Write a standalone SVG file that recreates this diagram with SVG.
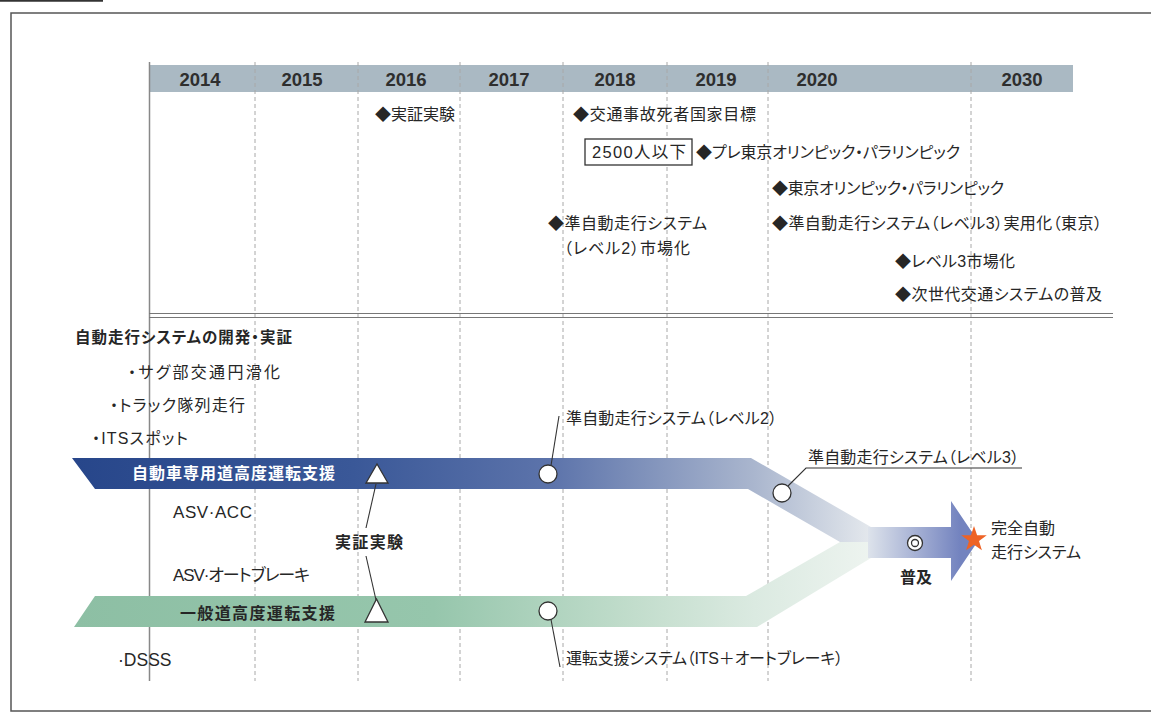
<svg xmlns="http://www.w3.org/2000/svg" width="1151" height="713" viewBox="0 0 1151 713">
<style>
text{font-family:'Liberation Sans','Noto Sans CJK JP',sans-serif;fill:#262626;font-size:16px;font-feature-settings:"palt"}
.yr{font-size:18.5px;font-weight:bold;fill:#2e2e2e;text-anchor:middle;font-feature-settings:normal}
.b{font-weight:bold}
.w{fill:#ffffff;font-weight:bold}
.dash{stroke:#a8a8a8;stroke-width:1;stroke-dasharray:4 3;fill:none}
.lead{stroke:#333;stroke-width:1.1;fill:none}
.mk{fill:#fff;stroke:#333;stroke-width:1.3}
</style>
<defs>
<linearGradient id="gBlue" gradientUnits="userSpaceOnUse" x1="72" y1="0" x2="875" y2="0">
<stop offset="0" stop-color="#27468a"/>
<stop offset="0.35" stop-color="#3a5898"/>
<stop offset="0.6" stop-color="#5d74ab"/>
<stop offset="0.85" stop-color="#aab6ce"/>
<stop offset="1" stop-color="#e6eaee"/>
</linearGradient>
<linearGradient id="gGreen" gradientUnits="userSpaceOnUse" x1="73" y1="0" x2="875" y2="0">
<stop offset="0" stop-color="#8dbfa4"/>
<stop offset="0.45" stop-color="#96c6ac"/>
<stop offset="0.7" stop-color="#c2ddcc"/>
<stop offset="0.85" stop-color="#dbeae1"/>
<stop offset="1" stop-color="#eef4f0"/>
</linearGradient>
<linearGradient id="gArrow" gradientUnits="userSpaceOnUse" x1="862" y1="0" x2="960" y2="0">
<stop offset="0" stop-color="#e4e9ee"/>
<stop offset="1" stop-color="#7383bf"/>
</linearGradient>
</defs>

<g id="frame">
<path d="M1152,13 H11 V711 H1152" fill="none" stroke="#555" stroke-width="1.5"/>
<line x1="0" y1="0.8" x2="103" y2="0.8" stroke="#333" stroke-width="1.8"/>
</g>

<g id="header">
<rect x="149" y="65" width="924" height="27" fill="#aab9c3"/>
<text class="yr" x="200" y="86">2014</text>
<text class="yr" x="302" y="86">2015</text>
<text class="yr" x="406" y="86">2016</text>
<text class="yr" x="509" y="86">2017</text>
<text class="yr" x="615" y="86">2018</text>
<text class="yr" x="716" y="86">2019</text>
<text class="yr" x="817" y="86">2020</text>
<text class="yr" x="1022" y="86">2030</text>
</g>

<g id="grid">
<line class="dash" x1="255" y1="62" x2="255" y2="681"/>
<line class="dash" x1="358" y1="62" x2="358" y2="681"/>
<line class="dash" x1="460" y1="62" x2="460" y2="681"/>
<line class="dash" x1="563" y1="62" x2="563" y2="681"/>
<line class="dash" x1="667" y1="62" x2="667" y2="681"/>
<line class="dash" x1="768" y1="62" x2="768" y2="681"/>
<line class="dash" x1="971" y1="62" x2="971" y2="681"/>
<line x1="149.5" y1="62" x2="149.5" y2="681" stroke="#888" stroke-width="1.5"/>
<line x1="149" y1="313.5" x2="1113" y2="313.5" stroke="#777" stroke-width="1.2"/>
<line x1="149" y1="317.5" x2="1113" y2="317.5" stroke="#777" stroke-width="1.2"/>
</g>

<g id="events">
<text x="375" y="120" textLength="80">◆実証実験</text>
<text x="573" y="120" textLength="183">◆交通事故死者国家目標</text>
<g id="target-box">
<rect x="585" y="139" width="107" height="26" fill="#fff" stroke="#333" stroke-width="1.3"/>
<text x="592" y="158" textLength="94" style="font-size:16.5px">2500人以下</text>
</g>
<text x="696" y="158" textLength="264">◆プレ東京オリンピック・パラリンピック</text>
<text x="772" y="194" textLength="232">◆東京オリンピック・パラリンピック</text>
<text x="548" y="229" textLength="159">◆準自動走行システム</text>
<text x="564" y="254" textLength="126">（レベル2）市場化</text>
<text x="772" y="229" textLength="330">◆準自動走行システム（レベル3）実用化（東京）</text>
<text x="895" y="267" textLength="120">◆レベル3市場化</text>
<text x="895" y="300" textLength="207">◆次世代交通システムの普及</text>
</g>

<g id="dev-list">
<text class="b" x="75" y="343" textLength="217" style="font-size:15.5px">自動走行システムの開発・実証</text>
<text x="128" y="378" textLength="152">・サグ部交通円滑化</text>
<text x="110" y="411" textLength="135">・トラック隊列走行</text>
<text x="92" y="444" textLength="96">・ITSスポット</text>
</g>

<g id="band-expressway">
<polygon points="72,458 751,458 871,527 871,542 840,542 748,489 95,489" fill="url(#gBlue)"/>
<text class="w" x="132" y="479" textLength="203">自動車専用道高度運転支援</text>
</g>

<g id="band-general">
<polygon points="95,596 746,596 840,542 871,542 871,558 757,627 74,627" fill="url(#gGreen)"/>
<text class="b" x="180" y="619" textLength="155">一般道高度運転支援</text>
</g>

<g id="arrow-merge">
<polygon points="868,527 951,527 951,501 978,541 951,581 951,558 868,558" fill="url(#gArrow)"/>
</g>

<g id="connectors">
<line class="lead" x1="376" y1="484" x2="366" y2="528"/>
<line class="lead" x1="366" y1="556" x2="376" y2="600"/>
<line class="lead" x1="551" y1="465.5" x2="559" y2="416"/>
<line class="lead" x1="551" y1="619.5" x2="560" y2="667"/>
<polyline class="lead" points="788,486 806,468 1022,468"/>
</g>

<g id="markers">
<polygon class="mk" points="366,483 388,483 377,464"/>
<polygon class="mk" points="365,622 388,622 376.5,599"/>
<circle class="mk" cx="548" cy="474" r="9"/>
<circle class="mk" cx="548" cy="611" r="9"/>
<circle class="mk" cx="782" cy="493" r="9"/>
<circle class="mk" cx="915" cy="543" r="7.5"/>
<circle class="mk" cx="915" cy="543" r="3.5"/>
<polygon points="974,526 977.1,535.2 986.8,535.3 979,541.1 981.9,550.3 974,544.7 966.1,550.3 969,541.1 961.2,535.3 970.9,535.2" fill="#ee6326"/>
</g>

<g id="labels">
<text x="173" y="518" textLength="79" style="font-size:17px">ASV·ACC</text>
<text class="b" x="335" y="548" textLength="68">実証実験</text>
<text x="173" y="581" textLength="137" style="font-size:17px">ASV·オートブレーキ</text>
<text x="118" y="666" style="font-size:17.5px">·DSSS</text>
<text x="566" y="424" textLength="211">準自動走行システム（レベル2）</text>
<text x="808" y="463" textLength="211">準自動走行システム（レベル3）</text>
<text x="566" y="664" textLength="277">運転支援システム（ITS＋オートブレーキ）</text>
<text class="b" x="900" y="583" textLength="32">普及</text>
<text x="991" y="534" textLength="64">完全自動</text>
<text x="991" y="558" textLength="90">走行システム</text>
</g>
</svg>
